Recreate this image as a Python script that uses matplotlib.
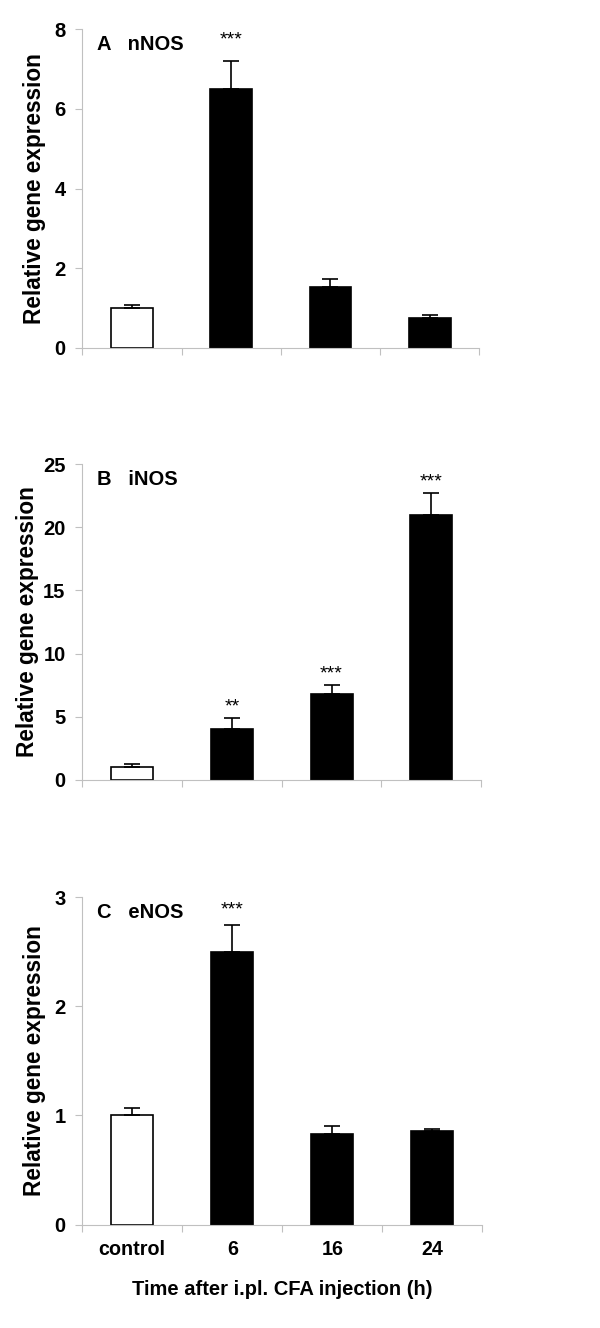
import matplotlib.pyplot as plt
import numpy as np

plt.rcParams["font.family"] = ["Liberation Sans", "DejaVu Sans"]
plt.rcParams["font.weight"] = "bold"

# data
groups = ["control", "6", "16", "24"]
panel_labels = ["A   nNOS", "B   iNOS", "C   eNOS"]

nnos_mean = [1.0, 6.5, 1.52, 0.74]
nnos_err = [0.09, 0.71, 0.22, 0.09]
nnos_stars = ["", "***", "", ""]
nnos_star_y = [0, 7.72, 0, 0]

inos_mean = [1.0, 4.06, 6.78, 21.0]
inos_err = [0.25, 0.82, 0.76, 1.72]
inos_stars = ["", "**", "***", "***"]
inos_star_y = [0, 5.8, 8.4, 23.6]

enos_mean = [1.0, 2.5, 0.83, 0.856]
enos_err = [0.07, 0.24, 0.07, 0.02]
enos_stars = ["", "***", "", ""]
enos_star_y = [0, 2.88, 0, 0]

yticks_list = [[0, 2, 4, 6, 8], [0, 5, 10, 15, 20, 25], [0, 1, 2, 3]]
ylims = [8, 25, 3]
label_pads = [6, 3, 6]

fig = plt.figure(figsize=(6, 13.28), dpi=100)
rects = [
    [0.137, 0.738, 0.662, 0.240],
    [0.137, 0.4127, 0.665, 0.2379],
    [0.137, 0.0778, 0.667, 0.2467],
]
means = [nnos_mean, inos_mean, enos_mean]
errs = [nnos_err, inos_err, enos_err]
stars = [nnos_stars, inos_stars, enos_stars]
star_ys = [nnos_star_y, inos_star_y, enos_star_y]
axis_grey = "#c0c0c0"

x = np.arange(len(groups))
for i in range(3):
    ax = fig.add_axes(rects[i])
    colors = ["white", "black", "black", "black"]
    lower = [0] * len(groups)
    ax.bar(x, means[i], width=0.42, color=colors, edgecolor="black", linewidth=1.2,
           yerr=[lower, errs[i]], capsize=6,
           error_kw=dict(ecolor="black", elinewidth=1.2, capthick=1.2), zorder=2)
    for xi, s, sy in zip(x, stars[i], star_ys[i]):
        if s:
            ax.text(xi, sy, s, ha="center", va="center", fontsize=14, fontweight="normal")
    ax.text(0.038, 0.952, panel_labels[i], transform=ax.transAxes, fontsize=14.5,
            fontweight="bold", va="center", ha="left")
    ax.set_xlim(-0.5, 3.5)
    ax.set_ylim(0, ylims[i])
    ax.set_yticks(yticks_list[i])
    ax.set_xticks(np.arange(-0.5, 4, 1.0))
    ax.set_xticklabels([])
    ax.tick_params(axis="y", labelsize=14.5, color=axis_grey, length=5, width=0.8, pad=7)
    ax.tick_params(axis="x", color=axis_grey, length=5, width=0.8)
    for side in ["top", "right"]:
        ax.spines[side].set_visible(False)
    for side in ["left", "bottom"]:
        ax.spines[side].set_color(axis_grey)
        ax.spines[side].set_linewidth(0.8)
    ax.set_ylabel("Relative gene expression", fontsize=16.3, fontweight="bold",
                  labelpad=label_pads[i])
    if i == 2:
        ax.set_xticks(x, minor=True)
        ax.set_xticklabels(groups, minor=True)
        ax.tick_params(axis="x", which="minor", length=0, labelsize=14.2, pad=11)
        ax.set_xlabel("Time after i.pl. CFA injection (h)", fontsize=14.5,
                      fontweight="bold", labelpad=15)

fig.savefig("out.png", dpi=100)
